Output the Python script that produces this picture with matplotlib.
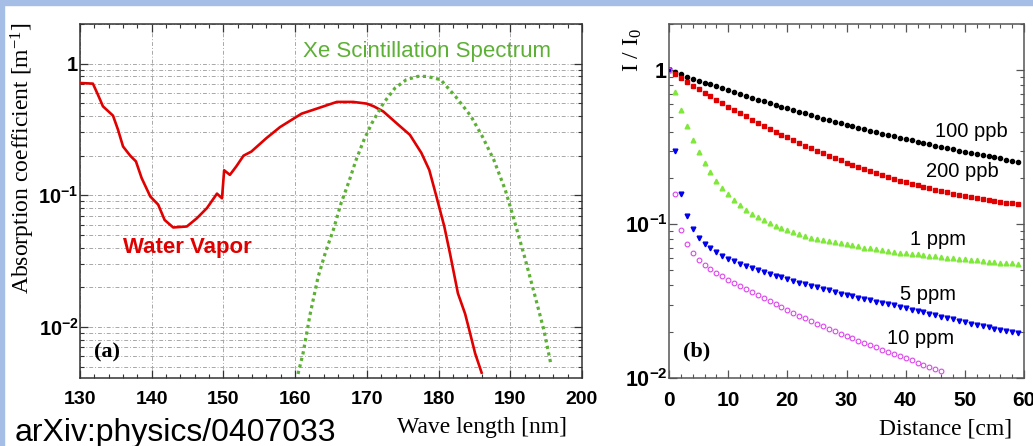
import matplotlib
matplotlib.use('Agg')
import matplotlib.pyplot as plt
from matplotlib.ticker import MultipleLocator, LogLocator, NullFormatter
from matplotlib.patches import Rectangle

# ===== data (a): absorption of water vapour and Xe scintillation =====
wave_water = [130, 131.8, 132.5, 133.2, 134.6, 135.3, 136.0, 137.0, 137.8, 138.6,
              139.8, 140.9, 141.8, 143.0, 144.9, 146.3, 147.7, 149.1, 149.8, 150.1,
              150.9, 151.8, 152.8, 153.9, 156.0, 157.9, 160.9, 163.0, 165.8, 168.1,
              170.0, 171.0, 172.3, 174.4, 176.0, 177.6, 178.7, 179.7, 180.8, 181.6,
              182.7, 183.7, 184.3, 185.1, 186.0]
absorb_water = [0.713, 0.705, 0.581, 0.474, 0.403, 0.315, 0.235, 0.200, 0.181, 0.135,
                0.098, 0.085, 0.065, 0.057, 0.058, 0.067, 0.080, 0.103, 0.095, 0.155,
                0.143, 0.166, 0.200, 0.215, 0.272, 0.330, 0.417, 0.455, 0.512, 0.512,
                0.497, 0.473, 0.433, 0.343, 0.288, 0.210, 0.156, 0.098, 0.058, 0.036,
                0.018, 0.0126, 0.0094, 0.0063, 0.0045]

wave_xe = [160.4, 161.1, 162.1, 163.2, 164.3, 165.3, 166.4, 167.5, 168.5, 169.6,
           170.7, 172.3, 173.9, 175.5, 177.1, 178.4, 180.3, 182.4, 184.5, 186.1,
           187.7, 189.3, 190.4, 192.0, 193.6, 194.7, 195.7]
xe_spectrum = [0.0044, 0.0063, 0.0126, 0.024, 0.038, 0.054, 0.087, 0.127, 0.186, 0.264,
               0.353, 0.50, 0.65, 0.755, 0.80, 0.80, 0.755, 0.56, 0.40, 0.28,
               0.186, 0.11, 0.069, 0.034, 0.016, 0.0094, 0.0051]

# ===== data (b): transmission vs distance =====
distance = list(range(60))
ppb100 = [1.000, 0.969, 0.940, 0.911, 0.884, 0.858, 0.833, 0.809, 0.785, 0.763,
          0.741, 0.720, 0.700, 0.681, 0.663, 0.645, 0.628, 0.611, 0.595, 0.580,
          0.565, 0.551, 0.537, 0.524, 0.511, 0.498, 0.486, 0.475, 0.464, 0.453,
          0.443, 0.433, 0.423, 0.414, 0.405, 0.396, 0.388, 0.379, 0.372, 0.364,
          0.357, 0.350, 0.343, 0.336, 0.330, 0.324, 0.318, 0.312, 0.306, 0.301,
          0.295, 0.290, 0.286, 0.281, 0.276, 0.272, 0.268, 0.263, 0.259, 0.255]
ppb200 = [1.000, 0.943, 0.891, 0.842, 0.796, 0.754, 0.714, 0.677, 0.643, 0.610,
          0.580, 0.552, 0.526, 0.501, 0.478, 0.456, 0.436, 0.417, 0.399, 0.382,
          0.366, 0.351, 0.337, 0.324, 0.312, 0.300, 0.289, 0.279, 0.269, 0.260,
          0.251, 0.243, 0.235, 0.228, 0.221, 0.215, 0.209, 0.203, 0.198, 0.192,
          0.188, 0.183, 0.179, 0.175, 0.171, 0.167, 0.164, 0.161, 0.158, 0.155,
          0.152, 0.150, 0.148, 0.145, 0.143, 0.142, 0.140, 0.138, 0.137, 0.136]
ppm1 = [1.000, 0.726, 0.552, 0.437, 0.355, 0.295, 0.251, 0.218, 0.192, 0.172,
        0.156, 0.144, 0.133, 0.124, 0.117, 0.111, 0.106, 0.101, 0.0975, 0.0940,
        0.0910, 0.0883, 0.0859, 0.0838, 0.0818, 0.0802, 0.0787, 0.0774, 0.0764, 0.0753,
        0.0740, 0.0728, 0.0716, 0.0705, 0.0695, 0.0686, 0.0676, 0.0668, 0.0661, 0.0653,
        0.0647, 0.0641, 0.0635, 0.0630, 0.0624, 0.0618, 0.0612, 0.0607, 0.0601, 0.0596,
        0.0590, 0.0585, 0.0581, 0.0575, 0.0571, 0.0566, 0.0562, 0.0558, 0.0555, 0.0551]
ppm5 = [1.000, 0.299, 0.157, 0.113, 0.0929, 0.0818, 0.0746, 0.0695, 0.0655, 0.0622,
        0.0596, 0.0573, 0.0553, 0.0536, 0.0520, 0.0505, 0.0490, 0.0476, 0.0463, 0.0451,
        0.0439, 0.0428, 0.0417, 0.0407, 0.0397, 0.0388, 0.0379, 0.0371, 0.0362, 0.0354,
        0.0347, 0.0340, 0.0333, 0.0327, 0.0320, 0.0314, 0.0308, 0.0301, 0.0296, 0.0290,
        0.0284, 0.0278, 0.0272, 0.0267, 0.0262, 0.0256, 0.0251, 0.0246, 0.0241, 0.0236,
        0.0231, 0.0226, 0.0222, 0.0218, 0.0214, 0.0209, 0.0206, 0.0202, 0.0198, 0.0195]
ppm10 = [1.000, 0.157, 0.0918, 0.0741, 0.0649, 0.0586, 0.0542, 0.0508, 0.0481, 0.0457,
         0.0436, 0.0415, 0.0396, 0.0378, 0.0361, 0.0345, 0.0330, 0.0315, 0.0301, 0.0288,
         0.0275, 0.0264, 0.0254, 0.0244, 0.0234, 0.0225, 0.0217, 0.0209, 0.0201, 0.0194,
         0.0188, 0.0181, 0.0175, 0.0169, 0.0163, 0.0158, 0.0153, 0.0148, 0.0144, 0.0139,
         0.0135, 0.0130, 0.0126, 0.0122, 0.0118, 0.0115, 0.0111]

RED = '#e00000'
GREEN = '#5cb034'
BLUE_BG = '#a4bee6'

plt.rcParams.update({
    'font.family': ['Liberation Sans', 'DejaVu Sans'],
    'mathtext.fontset': 'custom',
    'mathtext.rm': 'Liberation Serif',
    'mathtext.it': 'Liberation Serif:italic',
    'mathtext.bf': 'Liberation Sans:bold',
})

W, H = 1033, 446
fig = plt.figure(figsize=(W / 100, H / 100), dpi=100)


def fx(px):
    return px / W


def fy(py):
    return 1 - py / H


# light blue frame of the slide
fig.patches.append(Rectangle((0, fy(5)), 1, 5 / H, transform=fig.transFigure,
                             color=BLUE_BG, zorder=0))
fig.patches.append(Rectangle((0, 0), 4 / W, 1, transform=fig.transFigure,
                             color=BLUE_BG, zorder=0))

ax1 = fig.add_axes([fx(80), fy(378), 502 / W, 354 / H])
ax2 = fig.add_axes([fx(669), fy(378), 355 / W, 354 / H])


def style_axes(ax, frame, size):
    for s in ax.spines.values():
        s.set_color(frame)
        s.set_linewidth(1.1)
    ax.tick_params(which='both', direction='in', top=True, right=True,
                   colors=frame, labelcolor='black')
    ax.tick_params(which='major', length=6, width=0.9)
    ax.tick_params(which='minor', length=3, width=0.8)
    ax.tick_params(axis='x', pad=9)
    ax.tick_params(axis='y', pad=1.0, labelsize=size + 0.5)
    ax.yaxis.set_minor_locator(LogLocator(base=10, subs=range(2, 10)))
    ax.yaxis.set_minor_formatter(NullFormatter())
    ax.set_yticks([0.01, 0.1, 1])
    ax.set_yticklabels([r'$\mathbf{10^{-2}}$', r'$\mathbf{10^{-1}}$',
                        r'$\mathbf{1}\;\;$'])
    ticks = ax.get_xticks()
    ax.set_xticks(ticks)
    ax.set_xticklabels([f'{int(t)}' for t in ticks], fontweight='bold', fontsize=size)


# ===== (a) =====
ax1.set_yscale('log')
ax1.xaxis.set_major_locator(MultipleLocator(10))
ax1.xaxis.set_minor_locator(MultipleLocator(2))
ax1.set_xlim(130, 200)
style_axes(ax1, '#333333', 14)
ax1.set_xlim(130, 200)
ax1.set_ylim(0.0041, 2.0)

ax1.grid(True, which='major', axis='x', color='#a8a8a8', lw=0.7,
         ls=(0, (4, 2, 1, 2)), zorder=0)
ax1.grid(True, which='both', axis='y', color='#a8a8a8', lw=0.7,
         ls=(0, (4, 2, 1, 2)), zorder=0)

ax1.plot(wave_water, absorb_water, color=RED, lw=1.9, solid_joinstyle='round', zorder=3)
ax1.plot(wave_xe, xe_spectrum, color=GREEN, lw=2.3, ls=(0, (1, 1.1)), zorder=3)

ax1.text(161.1, 1.23, 'Xe Scintillation Spectrum', color=GREEN, fontsize=16,
         ha='left', va='center')
ax1.text(136.0, 0.0399, 'Water Vapor', color=RED, fontsize=16, fontweight='bold',
         ha='left', va='center')
ax1.text(132.0, 0.00646, '(a)', fontsize=16, fontweight='bold',
         family='Liberation Serif', ha='left', va='center')

# ===== (b) =====
ax2.set_yscale('log')
ax2.xaxis.set_major_locator(MultipleLocator(10))
ax2.xaxis.set_minor_locator(MultipleLocator(2))
ax2.set_xlim(0, 60)
style_axes(ax2, '#555555', 15)
ax2.set_xlim(0, 60)
ax2.set_ylim(0.01, 2.0)

ax2.plot(distance, ppb100, ls='none', marker='o', ms=3.0, mfc='black', mec='black', zorder=3)
ax2.plot(distance, ppb200, ls='none', marker='s', ms=2.9, mfc='#e00000', mec='#e00000', zorder=3)
ax2.plot(distance, ppm1, ls='none', marker='^', ms=3.4, mfc='#7fe83a', mec='#7fe83a', zorder=3)
ax2.plot(distance, ppm5, ls='none', marker='v', ms=3.4, mfc='#0000ee', mec='#0000ee', zorder=3)
ax2.plot(distance[:len(ppm10)], ppm10, ls='none', marker='o', ms=3.4, mfc='none',
         mec='#dd44ee', mew=0.8, zorder=4)

for d, v, s in [(45.0, 0.398, '100 ppb'), (43.4, 0.219, '200 ppb'),
                (40.7, 0.079, '1 ppm'), (39.0, 0.0347, '5 ppm'),
                (36.8, 0.018, '10 ppm')]:
    ax2.text(d, v, s, fontsize=14.5, ha='left', va='center')
ax2.text(2.4, 0.0148, '(b)', fontsize=16, fontweight='bold',
         family='Liberation Serif', ha='left', va='center')

# ===== axis titles =====
fig.text(fx(23), fy(22), 'Absorption coefficient [m$^{-1}$]', rotation=90,
         family='Liberation Serif', fontsize=17, ha='center', va='top')
fig.text(fx(567), fy(428), 'Wave length [nm]', family='Liberation Serif',
         fontsize=17, ha='right', va='center')
fig.text(fx(633), fy(28), 'I / I$_0$', rotation=90, family='Liberation Serif',
         fontsize=17, ha='center', va='top')
fig.text(fx(1012), fy(429), 'Distance [cm]', family='Liberation Serif',
         fontsize=17, ha='right', va='center')
fig.text(fx(15), fy(441), 'arXiv:physics/0407033', fontsize=23,
         ha='left', va='baseline')

fig.savefig('out.png', dpi=100)
